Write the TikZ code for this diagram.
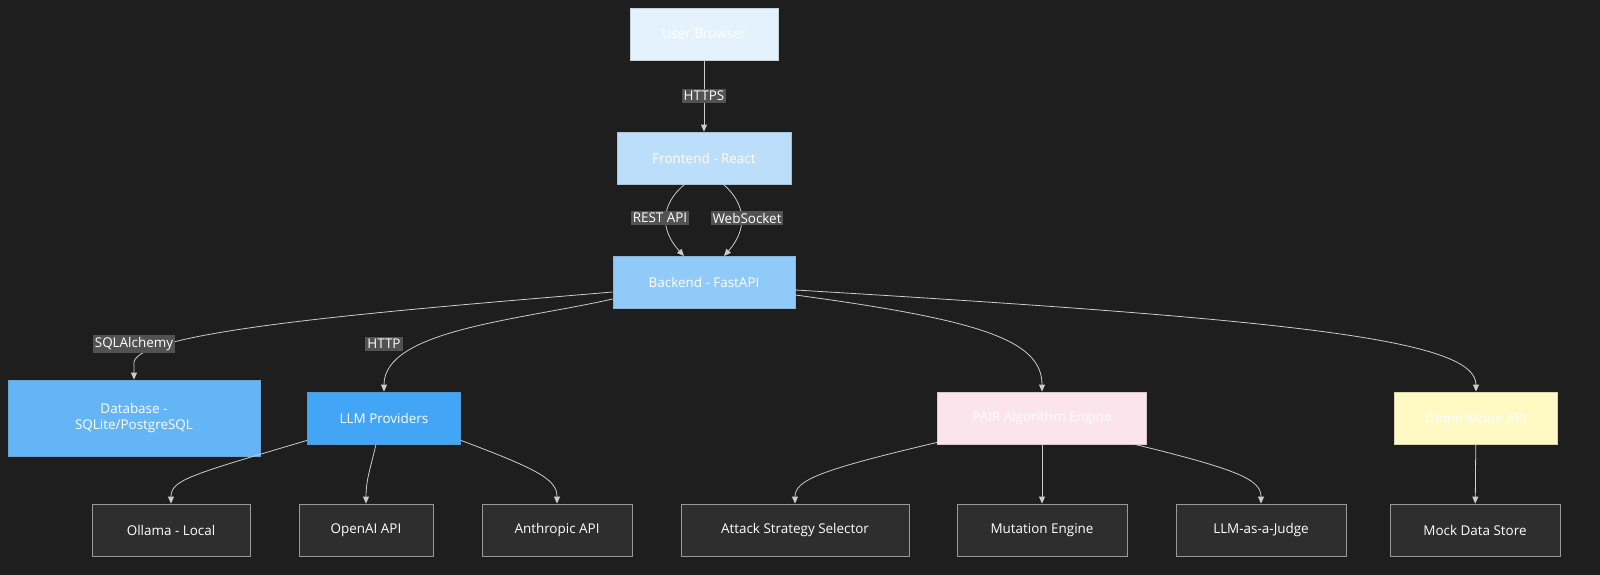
\documentclass[tikz,border=0pt]{standalone}
\usepackage{fontspec}
\setmainfont{Open Sans}
\usetikzlibrary{arrows.meta}
\definecolor{bg}{HTML}{1E1E1E}
\definecolor{edge}{HTML}{CCCCCC}
\tikzset{
 x=1bp,y=-1bp,
 box/.style={draw=#1!70!gray,line width=0.8pt,fill=#1,text=white,minimum height=52bp,font=\fontsize{13.5}{17}\selectfont,align=center,inner sep=0pt},
 dk/.style={draw=gray!80,line width=0.8pt,fill=black!82,text=white,minimum height=52bp,font=\fontsize{13.5}{17}\selectfont,inner sep=0pt},
 lab/.style={fill=black!68,text=white,font=\fontsize{13.5}{15}\selectfont,inner sep=2pt},
 ar/.style={draw=edge,line width=0.8pt,-{Triangle[length=7pt,width=6pt]}}
}
\definecolor{c1}{HTML}{E3F2FD}\definecolor{c2}{HTML}{BBDEFB}\definecolor{c3}{HTML}{90CAF9}
\definecolor{c4}{HTML}{64B5F6}\definecolor{c5}{HTML}{42A5F5}\definecolor{c6}{HTML}{FCE4EC}\definecolor{c7}{HTML}{FFF9C4}
\begin{document}
\begin{tikzpicture}
\fill[bg] (0,0) rectangle (1600,575);
\useasboundingbox (0,0) rectangle (1600,575);
\node[box=c1,minimum width=148bp] (ub) at (704,34) {User Browser};
\node[box=c2,minimum width=174bp] (fe) at (704,158) {Frontend - React};
\node[box=c3,minimum width=182bp] (be) at (704,282) {Backend - FastAPI};
\node[box=c4,minimum width=252bp,minimum height=76bp] (db) at (134,418) {Database -\\SQLite/PostgreSQL};
\node[box=c5,minimum width=153bp] (llm) at (384,418) {LLM Providers};
\node[box=c6,minimum width=209bp] (pair) at (1042,418) {PAIR Algorithm Engine};
\node[box=c7,minimum width=163bp] (demo) at (1476,418) {Demo Mode API};
\node[dk,minimum width=158bp] (ol) at (171,530) {Ollama - Local};
\node[dk,minimum width=134bp] (oa) at (366,530) {OpenAI API};
\node[dk,minimum width=150bp] (an) at (557,530) {Anthropic API};
\node[dk,minimum width=228bp] (at) at (795,530) {Attack Strategy Selector};
\node[dk,minimum width=170bp] (mu) at (1042,530) {Mutation Engine};
\node[dk,minimum width=170bp] (ju) at (1261,530) {LLM-as-a-Judge};
\node[dk,minimum width=170bp] (mo) at (1475,530) {Mock Data Store};

\draw[ar] (ub) -- node[lab]{HTTPS} (fe);
\draw[ar] (fe.south west)++(68,0) .. controls (660,205) and (660,230) .. (684,256);
\draw[ar] (fe.south east)++(-68,0) .. controls (747,205) and (747,230) .. (724,256);
\node[lab] (l1) at (660,218) {REST API};
\node[lab] (l2) at (747,218) {WebSocket};
\draw[ar] (be.west)++(0,10) .. controls (400,310) and (140,330) .. (134,362) -- (db.north);
\node[lab] (l3) at (134,344) {SQLAlchemy};
\draw[ar] (be.west)++(0,17) .. controls (520,320) and (384,330) .. (llm.north);
\node[lab] (l4) at (384,344) {HTTP};
\draw[ar] (be.east)++(0,13) .. controls (980,320) and (1042,340) .. (pair.north);
\draw[ar] (be.east)++(0,8) .. controls (1300,320) and (1476,340) .. (demo.north);
\draw[ar] (llm.south west)++(0,-4) .. controls (190,475) and (171,480) .. (ol.north);
\draw[ar] (llm.south)++(-8,0) .. controls (370,470) and (366,480) .. (oa.north);
\draw[ar] (llm.south east)++(0,-4) .. controls (540,470) and (557,480) .. (an.north);
\draw[ar] (pair.south west)++(0,-2) .. controls (820,470) and (795,480) .. (at.north);
\draw[ar] (pair) -- (mu);
\draw[ar] (pair.south east)++(-12,0) .. controls (1240,470) and (1261,480) .. (ju.north);
\draw[ar] (demo) -- (mo);
\end{tikzpicture}
\end{document}
